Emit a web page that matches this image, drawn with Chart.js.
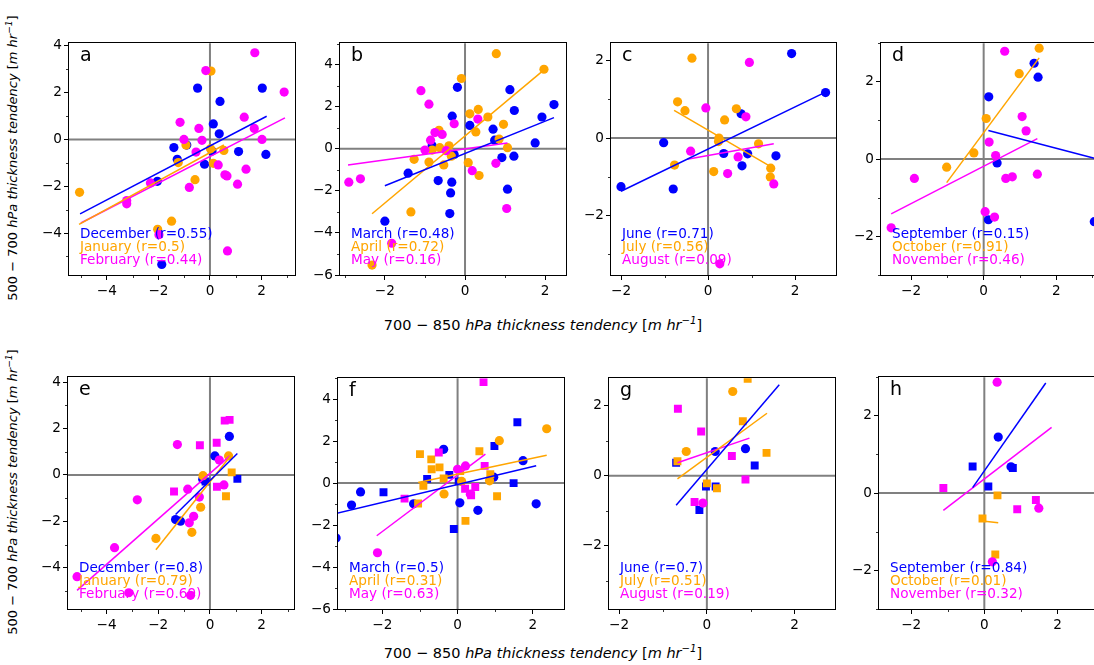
<!DOCTYPE html>
<html>
<head>
<meta charset="utf-8">
<script src="https://cdn.jsdelivr.net/npm/chart.js"></script>
<style>
  body { margin: 0; width: 1094px; height: 665px; overflow: hidden; background: #fff; position: relative; font-family: "DejaVu Sans", sans-serif; }
  .panel { position: absolute; }
  .letter { position: absolute; font-size: 19px; line-height: 19px; color: #000; }
  .legend { position: absolute; font-size: 13.6px; line-height: 13.2px; white-space: nowrap; }
  .ylab { position: absolute; width: 340px; text-align: center; font-size: 13px; line-height: 16px; white-space: nowrap; transform: rotate(-90deg); }
  .xlab { position: absolute; width: 400px; text-align: center; font-size: 14.5px; line-height: 18px; white-space: nowrap; }
  sup { font-size: 70%; line-height: 0; }
</style>
</head>
<body>
<script>
// season names and correlations
const seasonNames = [
  ["December", "January", "February"],
  ["March", "April", "May"],
  ["June", "July", "August"],
  ["September", "October", "November"]
];
const rTop = [["0.55", "0.5", "0.44"], ["0.48", "0.72", "0.16"], ["0.71", "0.56", "0.09"], ["0.15", "0.91", "0.46"]];
const rBottom = [["0.8", "0.79", "0.69"], ["0.5", "0.31", "0.63"], ["0.7", "0.51", "0.19"], ["0.84", "0.01", "0.32"]];

// major ticks
const xTicksWide = [-4, -2, 0, 2];
const yTicksWide = [-4, -2, 0, 2, 4];
const xTicksMid = [-2, 0, 2];
const yTicksMid = [-6, -4, -2, 0, 2, 4];
const ticksSmall = [-2, 0, 2];

// panel a
const aDec = [[-0.48,2.19],[2.03,2.19],[0.39,1.62],[0.13,0.66],[0.36,0.24],[-1.40,-0.35],[-1.27,-0.85],[-0.90,-0.24],[-0.21,-1.06],[0.08,-0.49],[1.11,-0.52],[2.17,-0.64],[-2.04,-1.79],[-1.87,-5.34]];
const aJan = [[-5.06,-2.26],[0.04,2.92],[-0.93,-0.24],[-1.23,-0.99],[-0.58,-1.72],[0.54,-0.47],[0.13,-1.02],[-1.49,-3.49],[-2.03,-3.84],[0.02,-0.4]];
const aFeb = [[1.74,3.70],[-0.16,2.94],[2.88,2.02],[-1.16,0.73],[-0.43,0.47],[1.33,0.95],[1.72,0.47],[-1.01,0.0],[-0.31,-0.04],[2.02,0.0],[-0.54,-0.54],[0.32,-1.09],[0.58,-1.51],[0.66,-1.56],[1.40,-1.27],[1.07,-1.91],[-0.80,-2.05],[-2.31,-1.86],[-3.23,-2.61],[-3.23,-2.75],[-1.98,-4.07],[0.68,-4.76]];
const aDecFit = [[-5.04,-3.18],[2.2,0.99]];
const aJanFit = [[-5.08,-3.63],[0.54,-0.24]];
const aFebFit = [[-5.01,-3.57],[2.91,0.92]];

// panel b
const bMar = [[-0.19,2.92],[1.12,2.81],[1.23,1.82],[2.22,2.1],[1.92,1.51],[-0.32,1.55],[0.12,1.11],[0.7,0.93],[0.74,0.41],[1.75,0.28],[-0.82,0.14],[0.92,-0.42],[1.22,-0.35],[-0.27,-0.27],[-1.42,-1.16],[-0.67,-1.51],[-0.33,-1.59],[-0.36,-2.1],[1.06,-1.92],[-0.38,-3.08],[-2.0,-3.44]];
const bApr = [[0.78,4.52],[1.97,3.78],[-0.09,3.34],[0.12,1.66],[0.33,1.87],[0.57,1.51],[0.27,0.8],[0.96,1.16],[0.85,0.46],[1.06,0.05],[-0.65,0.88],[-0.63,0.05],[-0.4,0.14],[-0.34,-0.35],[-0.82,-0.06],[-1.27,-0.5],[-0.9,-0.63],[-0.53,-0.77],[0.08,-0.66],[0.35,-1.27],[-1.35,-3.0],[-2.32,-5.53]];
const bMay = [[-1.1,2.76],[-0.9,2.12],[-0.27,1.19],[0.32,1.41],[-0.75,0.77],[-0.57,0.68],[-0.86,0.41],[-1.0,-0.06],[-0.47,-0.09],[0.77,-0.69],[0.18,-1.04],[1.04,-2.84],[-2.9,-1.59],[-2.61,-1.43],[-1.83,-4.49]];
const bMarFit = [[-2.0,-1.76],[2.22,1.48]];
const bAprFit = [[-2.32,-3.09],[1.97,3.75]];
const bMayFit = [[-2.92,-0.77],[1.06,0.27]];

// panel c
const cJun = [[1.92,2.19],[2.70,1.18],[0.76,0.63],[-1.02,-0.12],[0.36,-0.40],[0.91,-0.41],[1.56,-0.46],[0.78,-0.72],[-2.0,-1.26],[-0.80,-1.32]];
const cJul = [[-0.37,2.07],[-0.70,0.94],[-0.53,0.71],[0.65,0.76],[0.38,0.47],[0.25,0.0],[0.24,-0.09],[1.16,-0.15],[-0.77,-0.70],[0.13,-0.87],[1.44,-0.78],[1.43,-1.01]];
const cAug = [[0.95,1.96],[-0.05,0.78],[0.87,0.55],[-0.40,-0.34],[0.69,-0.49],[0.45,-0.92],[1.51,-1.19],[0.27,-3.26]];
const cJunFit = [[-2.0,-1.38],[2.70,1.19]];
const cJulFit = [[-0.78,0.72],[1.44,-0.74]];
const cAugFit = [[-0.48,-0.55],[1.51,-0.15]];

// panel d
const dSep = [[1.39,2.48],[1.50,2.12],[0.14,1.61],[0.37,-0.10],[0.13,-1.57],[3.05,-1.62]];
const dOct = [[1.53,2.87],[0.98,2.21],[0.07,1.05],[-0.27,0.16],[-1.02,-0.21]];
const dNov = [[0.58,2.79],[1.06,1.10],[1.17,0.73],[0.15,0.44],[0.33,0.09],[0.61,-0.50],[0.79,-0.46],[1.48,-0.39],[-1.91,-0.50],[0.04,-1.36],[0.30,-1.50],[-2.55,-1.78]];
const dSepFit = [[0.13,0.74],[3.05,0.02]];
const dOctFit = [[-1.02,-0.61],[1.53,2.62]];
const dNovFit = [[-2.55,-1.42],[1.48,0.53]];

// panel e (O = circles, S = squares)
const eDecO = [[0.75,1.66],[0.19,0.82],[-0.28,-0.18],[-1.33,-1.92],[-1.14,-1.99]];
const eDecS = [[1.06,-0.17],[-0.17,-0.28]];
const eJanO = [[0.72,0.82],[-0.27,-0.03],[-0.36,-1.39],[-2.09,-2.73],[-0.70,-2.47]];
const eJanS = [[0.84,0.11],[0.62,-0.92]];
const eFebO = [[-1.26,1.31],[0.36,0.64],[0.54,-0.43],[-0.41,-0.95],[-0.86,-0.61],[-2.81,-1.07],[-0.63,-1.78],[-0.80,-2.06],[-3.69,-3.13],[-3.14,-5.07],[-0.75,-5.18],[-5.14,-4.38]];
const eFebS = [[-0.39,1.28],[0.26,1.39],[0.57,2.34],[0.76,2.37],[0.27,-0.51],[-1.39,-0.71]];
const eDecFit = [[-1.33,-1.70],[1.06,0.92]];
const eJanFit = [[-2.09,-3.22],[0.84,0.88]];
const eFebFit = [[-5.14,-4.97],[0.77,0.82]];

// panel f
const fMarO = [[1.74,1.07],[-0.37,1.61],[0.96,0.28],[-2.58,-0.42],[-2.82,-1.05],[-1.17,-0.99],[0.06,-0.94],[0.54,-1.30],[2.09,-0.99],[-3.23,-2.62]];
const fMarS = [[1.59,2.90],[0.98,1.77],[-0.22,0.39],[-0.81,0.20],[0.03,0.08],[1.49,0.0],[-1.97,-0.44],[-0.10,-2.19]];
const fAprO = [[2.37,2.59],[1.11,2.02],[0.11,0.08],[0.85,0.11],[-0.36,-0.52]];
const fAprS = [[0.58,1.52],[-1.0,1.38],[-0.70,1.13],[-0.69,0.66],[-0.48,0.75],[-0.37,0.22],[0.07,0.58],[0.87,0.42],[-0.91,-0.13],[-1.05,-0.97],[1.05,-0.63],[0.21,-1.80]];
const fMayO = [[0.21,0.82],[0.0,0.66],[0.34,-0.53],[-2.13,-3.32]];
const fMayS = [[0.69,4.81],[-0.50,1.46],[0.72,0.82],[0.20,-0.27],[0.47,-0.19],[0.36,-0.58],[-1.41,-0.74]];
const fMarFit = [[-3.2,-1.43],[2.09,0.83]];
const fAprFit = [[-1.05,0.03],[2.37,1.33]];
const fMayFit = [[-2.15,-2.51],[0.74,1.38]];

// panel g
const gJunO = [[0.19,0.69],[0.88,0.77]];
const gJunS = [[1.09,0.29],[-0.70,0.37],[-0.02,-0.31],[0.20,-0.31],[-0.17,-0.98]];
const gJulO = [[0.59,2.40],[-0.47,0.69]];
const gJulS = [[0.93,2.76],[0.82,1.55],[1.36,0.65],[-0.67,0.41],[0.0,-0.22],[0.23,-0.36]];
const gAugO = [[-0.09,-0.78]];
const gAugS = [[-0.66,1.91],[-0.13,1.26],[0.57,0.56],[0.88,-0.11],[-0.28,-0.75]];
const gJunFit = [[-0.70,-0.84],[1.65,2.59]];
const gJulFit = [[-0.67,-0.09],[1.37,1.78]];
const gAugFit = [[-0.67,0.37],[0.97,1.07]];

// panel h
const hSepO = [[0.38,1.45],[0.73,0.68]];
const hSepS = [[-0.32,0.69],[0.78,0.65],[0.11,0.17]];
const hOctO = [];
const hOctS = [[0.36,-0.06],[-0.05,-0.66],[0.30,-1.59]];
const hNovO = [[0.35,2.87],[1.49,-0.39],[0.22,-1.78]];
const hNovS = [[-1.12,0.13],[1.41,-0.18],[0.90,-0.42]];
const hSepFit = [[-0.32,0.14],[1.68,2.85]];
const hOctFit = [[-0.05,-0.72],[0.38,-0.77]];
const hNovFit = [[-1.12,-0.45],[1.84,1.70]];

const COLORS = ["#0000ff", "#ffa500", "#ff00ff"];

// layout: box = [left, top, width, height] of plot area in px
const panels = [
  { id: "a", box: [69, 41, 226, 234], x: [-5.47, 3.3], y: [-5.79, 4.11], xt: xTicksWide, yt: yTicksWide, names: seasonNames[0], r: rTop[0], circ: [aDec, aJan, aFeb], sq: [[], [], []], fits: [aDecFit, aJanFit, aFebFit] },
  { id: "b", box: [340, 41, 226, 234], x: [-3.12, 2.52], y: [-6, 5.02], xt: xTicksMid, yt: yTicksMid, names: seasonNames[1], r: rTop[1], circ: [bMar, bApr, bMay], sq: [[], [], []], fits: [bMarFit, bAprFit, bMayFit] },
  { id: "c", box: [611, 41, 225, 234], x: [-2.23, 2.94], y: [-3.55, 2.46], xt: ticksSmall, yt: ticksSmall, names: seasonNames[2], r: rTop[2], circ: [cJun, cJul, cAug], sq: [[], [], []], fits: [cJunFit, cJulFit, cAugFit] },
  { id: "d", box: [881, 41, 226, 234], x: [-2.83, 3.4], y: [-3, 3], xt: ticksSmall, yt: ticksSmall, names: seasonNames[3], r: rTop[3], circ: [dSep, dOct, dNov], sq: [[], [], []], fits: [dSepFit, dOctFit, dNovFit] },
  { id: "e", box: [68, 375, 226, 234], x: [-5.49, 3.25], y: [-5.77, 4.21], xt: xTicksWide, yt: yTicksWide, names: seasonNames[0], r: rBottom[0], circ: [eDecO, eJanO, eFebO], sq: [eDecS, eJanS, eFebS], fits: [eDecFit, eJanFit, eFebFit] },
  { id: "f", box: [338, 376, 226, 233], x: [-3.18, 2.83], y: [-6, 5], xt: xTicksMid, yt: yTicksMid, names: seasonNames[1], r: rBottom[1], circ: [fMarO, fAprO, fMayO], sq: [fMarS, fAprS, fMayS], fits: [fMarFit, fAprFit, fMayFit] },
  { id: "g", box: [609, 376, 226, 233], x: [-2.23, 2.92], y: [-3.8, 2.78], xt: ticksSmall, yt: ticksSmall, names: seasonNames[2], r: rBottom[2], circ: [gJunO, gJulO, gAugO], sq: [gJunS, gJulS, gAugS], fits: [gJunFit, gJulFit, gAugFit] },
  { id: "h", box: [879, 375, 226, 234], x: [-2.88, 3.3], y: [-3, 3], xt: ticksSmall, yt: ticksSmall, names: seasonNames[3], r: rBottom[3], circ: [hSepO, hOctO, hNovO], sq: [hSepS, hOctS, hNovS], fits: [hSepFit, hOctFit, hNovFit] }
];

const fmt = v => (v < 0 ? "\u2212" + Math.abs(v) : String(v));
const toXY = arr => arr.map(([x, y]) => ({ x, y }));

// zero lines, frame and minor ticks
const framePlugin = {
  id: "frame",
  beforeDatasetsDraw(chart) {
    const { ctx, chartArea: a, scales: { x, y } } = chart;
    const x0 = x.getPixelForValue(0), y0 = y.getPixelForValue(0);
    ctx.save();
    ctx.strokeStyle = "#808080";
    ctx.lineWidth = 2;
    ctx.beginPath();
    ctx.moveTo(x0, a.top); ctx.lineTo(x0, a.bottom);
    ctx.moveTo(a.left, y0); ctx.lineTo(a.right, y0);
    ctx.stroke();
    ctx.restore();
  },
  afterDraw(chart) {
    const { ctx, chartArea: a, scales: { x, y } } = chart;
    ctx.save();
    ctx.strokeStyle = "#000";
    ctx.lineWidth = 1;
    ctx.strokeRect(Math.round(a.left) - 0.5, Math.round(a.top) - 0.5, Math.round(a.right - a.left) + 1, Math.round(a.bottom - a.top) + 1);
    ctx.lineWidth = 0.8;
    ctx.beginPath();
    const xm = x.ticks.map(t => t.value), ym = y.ticks.map(t => t.value);
    for (let v = Math.ceil(x.min); v <= Math.floor(x.max); v++) {
      if (xm.includes(v)) continue;
      const px = Math.round(x.getPixelForValue(v)) + 0.5;
      ctx.moveTo(px, a.bottom); ctx.lineTo(px, a.bottom + 3);
    }
    for (let v = Math.ceil(y.min); v <= Math.floor(y.max); v++) {
      if (ym.includes(v)) continue;
      const py = Math.round(y.getPixelForValue(v)) + 0.5;
      ctx.moveTo(a.left, py); ctx.lineTo(a.left - 3, py);
    }
    ctx.stroke();
    ctx.restore();
  }
};

function axis(range, ticks, isX) {
  return {
    type: "linear",
    min: range[0],
    max: range[1],
    afterBuildTicks: s => { s.ticks = ticks.map(v => ({ value: v })); },
    afterFit: s => { if (isX) s.height = 30; else s.width = 45; },
    border: { display: false },
    grid: { drawOnChartArea: false, drawTicks: true, tickLength: 5, tickColor: "#000", tickWidth: 1 },
    ticks: {
      padding: isX ? 3 : 2,
      color: "#000",
      font: { family: "DejaVu Sans", size: 13.6 },
      maxRotation: 0,
      autoSkip: false,
      callback: v => fmt(v)
    }
  };
}

panels.forEach(p => {
  const [L, T, W, H] = p.box;
  const wrap = document.createElement("div");
  wrap.className = "panel";
  wrap.style.left = (L - 45) + "px";
  wrap.style.top = (T - 8) + "px";
  const cv = document.createElement("canvas");
  cv.width = W + 53;
  cv.height = H + 38;
  wrap.appendChild(cv);
  document.body.appendChild(wrap);

  const datasets = [];
  p.fits.forEach((f, i) => datasets.push({
    data: toXY(f), showLine: true, borderColor: COLORS[i], borderWidth: 1.5,
    pointRadius: 0, order: 0, clip: 0
  }));
  p.circ.forEach((d, i) => datasets.push({
    data: toXY(d), pointStyle: "circle", pointRadius: 4.6, backgroundColor: COLORS[i],
    borderWidth: 0, order: 3 - i, clip: 0
  }));
  p.sq.forEach((d, i) => datasets.push({
    data: toXY(d), pointStyle: "rect", pointRadius: 5.6, backgroundColor: COLORS[i],
    borderWidth: 0, order: 3 - i, clip: 0
  }));

  new Chart(cv, {
    type: "scatter",
    data: { datasets },
    options: {
      responsive: false,
      animation: false,
      devicePixelRatio: 1,
      layout: { padding: { left: 0, top: 8, right: 8, bottom: 0 } },
      plugins: { legend: { display: false }, tooltip: { enabled: false } },
      elements: { point: { hoverRadius: 0 } },
      scales: { x: axis(p.x, p.xt, true), y: axis(p.y, p.yt, false) }
    },
    plugins: [framePlugin]
  });

  // panel letter
  const lt = document.createElement("div");
  lt.className = "letter";
  lt.textContent = p.id;
  lt.style.left = (L + 11) + "px";
  lt.style.top = (T + 4) + "px";
  document.body.appendChild(lt);

  // legend texts
  const lg = document.createElement("div");
  lg.className = "legend";
  lg.style.left = (L + 11) + "px";
  lg.style.top = (T + H - 48) + "px";
  p.names.forEach((n, i) => {
    const row = document.createElement("div");
    row.style.color = COLORS[i];
    row.textContent = n + " (r=" + p.r[i] + ")";
    lg.appendChild(row);
  });
  document.body.appendChild(lg);
});

// axis labels
const yLabel = '500 \u2212 700 <i>hPa thickness tendency</i> [<i>m hr<sup>\u22121</sup></i>]';
const xLabel = '700 \u2212 850 <i>hPa thickness tendency</i> [<i>m hr<sup>\u22121</sup></i>]';
[158, 492].forEach(cy => {
  const d = document.createElement("div");
  d.className = "ylab";
  d.innerHTML = yLabel;
  d.style.left = (13 - 170) + "px";
  d.style.top = (cy - 8) + "px";
  document.body.appendChild(d);
});
[325, 653].forEach(cy => {
  const d = document.createElement("div");
  d.className = "xlab";
  d.innerHTML = xLabel;
  d.style.left = (543 - 200) + "px";
  d.style.top = (cy - 9) + "px";
  document.body.appendChild(d);
});
</script>
</body>
</html>
